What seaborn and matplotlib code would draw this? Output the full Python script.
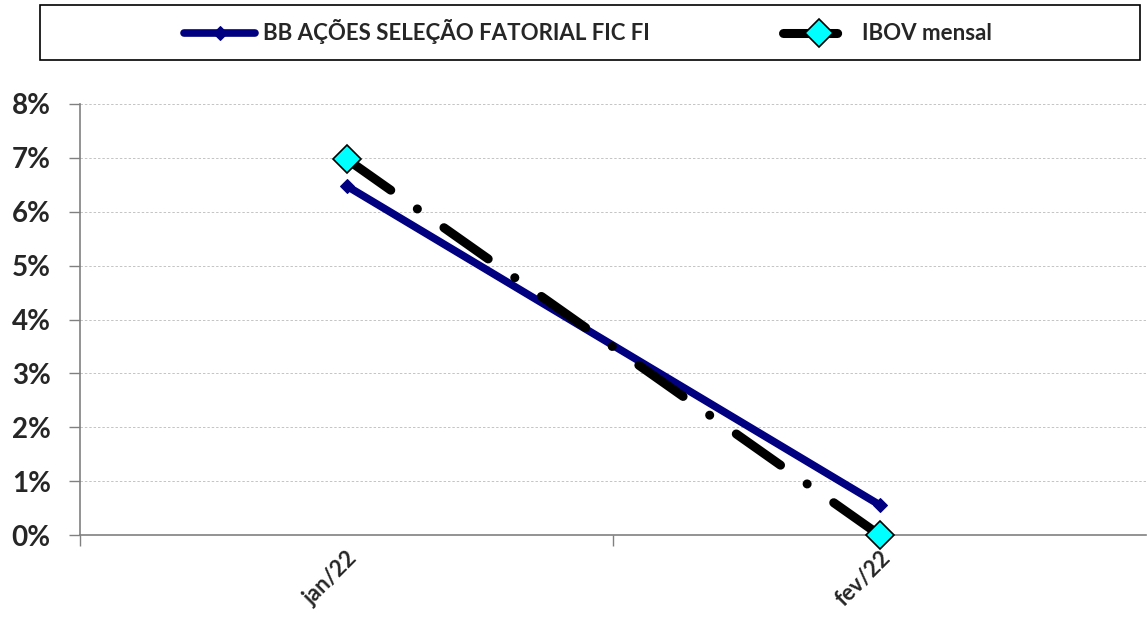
import matplotlib
matplotlib.use("Agg")
import matplotlib.pyplot as plt
import seaborn as sns
import pandas as pd
from matplotlib.patches import Rectangle
from matplotlib.ticker import FuncFormatter

categories = ["jan/22", "fev/22"]
bb_values = [6.48, 0.56]
ibov_values = [6.98, 0.0]
series_names = ["BB AÇÕES SELEÇÃO FATORIAL FIC FI", "IBOV mensal"]
y_ticks = [0, 1, 2, 3, 4, 5, 6, 7, 8]

sns.set_theme(style="white")
plt.rcParams['font.family'] = ['Lato', 'DejaVu Sans']
plt.rcParams['font.weight'] = 'bold'

fig = plt.figure(figsize=(11.47, 6.20), dpi=100)
ax = fig.add_axes([80/1147, 1-535/620, 1066/1147, 431/620])

df_bb = pd.DataFrame({"x": [0, 1], "y": bb_values})
df_ib = pd.DataFrame({"x": [0, 1], "y": ibov_values})

sns.lineplot(data=df_bb, x="x", y="y", ax=ax, color="#000080", linewidth=5.5,
             marker="D", markersize=7, markerfacecolor="#000080",
             markeredgecolor="#000080", label=series_names[0],
             solid_capstyle="round", zorder=3, clip_on=False)
sns.lineplot(data=df_ib, x="x", y="y", ax=ax, color="black", linewidth=6.5,
             marker="D", markersize=14, markerfacecolor="#00FFFF",
             markeredgecolor="black", markeredgewidth=1.2,
             label=series_names[1], zorder=4, clip_on=False)
ln = ax.lines[-1]
ln.set_dashes((6.0, 3.6, 0.01, 3.6))
ln.set_dash_capstyle("round")

ax.set_xlim(-0.5, 1.5)
ax.set_ylim(0, 8)
ax.set_yticks(y_ticks)
ax.yaxis.set_major_formatter(FuncFormatter(lambda v, p: f"{v:.0f}%"))
ax.set_xticks([0, 1])
ax.set_xticklabels(categories, rotation=45, ha="right", rotation_mode="anchor",
                   fontsize=16, fontweight="bold")
ax.set_xticks([-0.5, 0.5], minor=True)
ax.tick_params(axis="x", which="major", length=0, pad=9)
ax.tick_params(axis="x", which="minor", length=8, width=1, color="#808080",
               direction="out", bottom=True)
ax.tick_params(axis="y", length=8, width=1, color="#808080", direction="out",
               left=True, labelsize=20, pad=13)
for lab in ax.get_yticklabels():
    lab.set_fontweight("bold")
ax.set_xlabel("")
ax.set_ylabel("")
ax.grid(axis="y", color="#c4c4c4", linestyle=(0, (2.5, 2)), linewidth=0.7)
ax.set_axisbelow(True)
for s in ["top", "right"]:
    ax.spines[s].set_visible(False)
for s in ["left", "bottom"]:
    ax.spines[s].set_color("#808080")
    ax.spines[s].set_linewidth(1.2)

handles, labels = ax.get_legend_handles_labels()
ax.get_legend().remove()
fig.patches.append(Rectangle((40/1147, 1-60/620), 1100/1147, 55/620,
                             transform=fig.transFigure, facecolor="white",
                             edgecolor="black", linewidth=1.2))
leg = fig.legend(handles, labels, loc="center", bbox_to_anchor=(588/1147, 1-32/620),
                 ncol=2, frameon=False, handlelength=3.2,
                 handletextpad=0.35, columnspacing=6,
                 prop={"weight": "bold", "size": 16})

fig.savefig("out.png", dpi=100, facecolor="white")
